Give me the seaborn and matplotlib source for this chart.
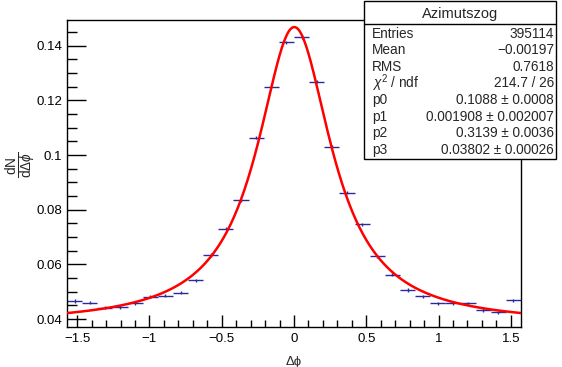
import numpy as np
import pandas as pd
import matplotlib
matplotlib.use("Agg")
import matplotlib.pyplot as plt
import seaborn as sns
from matplotlib.ticker import MultipleLocator, FuncFormatter

# ---- data ----
n_bins = 30
bin_edges_lo = -np.pi / 2
bin_edges_hi = np.pi / 2
counts = [0.0466, 0.0460, 0.0442, 0.0444, 0.0458, 0.0482, 0.0485, 0.0497,
          0.0542, 0.0634, 0.0730, 0.0834, 0.1064, 0.1250, 0.1412, 0.1432,
          0.1269, 0.1030, 0.0862, 0.0746, 0.0629, 0.0562, 0.0506, 0.0483,
          0.0458, 0.0458, 0.0458, 0.0433, 0.0425, 0.0469]
y_err = 0.0006
# fit parameters (from stat box)
p0, p1, p2, p3 = 0.1088, 0.001908, 0.3139, 0.03802
stat_title = "Azimutszog"
stat_labels = ["Entries", "Mean", "RMS", r"$\chi^2$ / ndf", "p0", "p1", "p2", "p3"]
stat_values = ["395114", "\u22120.00197", "0.7618", "214.7 / 26",
               "0.1088 \u00b1 0.0008", "0.001908 \u00b1 0.002007",
               "0.3139 \u00b1 0.0036", "0.03802 \u00b1 0.00026"]

edges = np.linspace(bin_edges_lo, bin_edges_hi, n_bins + 1)
centers = 0.5 * (edges[:-1] + edges[1:])
half_w = 0.5 * (edges[1] - edges[0])
df = pd.DataFrame({"x": centers, "y": counts})

xf = np.linspace(bin_edges_lo, bin_edges_hi, 400)
yf = p0 * p2**2 / ((xf - p1)**2 + p2**2) + p3
fit = pd.DataFrame({"x": xf, "y": yf})

sns.set_theme(style="ticks")
plt.rcParams['font.family'] = ['Liberation Sans', 'DejaVu Sans']
plt.rcParams['mathtext.fontset'] = 'custom'
plt.rcParams['mathtext.rm'] = 'Liberation Sans'
plt.rcParams['mathtext.it'] = 'Liberation Sans:italic'

fig = plt.figure(figsize=(5.62, 3.67), dpi=100)
fig.patch.set_facecolor("white")
ax = fig.add_axes([67 / 562, 1 - 327 / 367, (521 - 67) / 562, (327 - 20) / 367])

ax.errorbar(df["x"], df["y"], xerr=half_w, yerr=y_err, fmt="none",
            ecolor="#2a2aa0", elinewidth=1.0, capsize=0, zorder=2)
sns.lineplot(data=fit, x="x", y="y", ax=ax, color="#ff0000", lw=1.8, zorder=3)

ax.set_xlim(bin_edges_lo, bin_edges_hi)
ax.set_ylim(0.0371, 0.1494)

def fmt(v, pos):
    s = "%g" % round(v, 4)
    return s.replace("-", "\u2212")

ax.xaxis.set_major_locator(MultipleLocator(0.5))
ax.xaxis.set_minor_locator(MultipleLocator(0.1))
ax.yaxis.set_major_locator(MultipleLocator(0.02))
ax.yaxis.set_minor_locator(MultipleLocator(0.005))
ax.xaxis.set_major_formatter(FuncFormatter(fmt))
ax.yaxis.set_major_formatter(FuncFormatter(fmt))
ax.tick_params(axis="both", which="both", direction="in", top=False, right=False,
               labelsize=9.5, colors="black")
ax.tick_params(axis="y", which="major", length=14, width=1)
ax.tick_params(axis="y", which="minor", length=7, width=1)
ax.tick_params(axis="x", which="major", length=9, width=1)
ax.tick_params(axis="x", which="minor", length=5, width=1)
ax.tick_params(axis="x", pad=4)
for s in ax.spines.values():
    s.set_linewidth(1.0)
    s.set_color("black")
    s.set_visible(True)

ax.set_xlabel("\u0394\u03d5", fontsize=9.5, labelpad=8)
ax.set_ylabel("")
fig.text(21 / 562, 1 - 165 / 367, r"$\frac{\mathrm{dN}}{\mathrm{d}\Delta\phi}$",
         rotation=90, ha="center", va="center", fontsize=14)

# stat box
bx0, bx1, by0, by1 = 364, 556, 1, 159
rect = plt.Rectangle((bx0 / 562, 1 - by1 / 367), (bx1 - bx0) / 562, (by1 - by0) / 367,
                     transform=fig.transFigure, facecolor="white", edgecolor="black",
                     lw=1.0, zorder=10)
fig.patches.append(rect)
fig.add_artist(plt.Line2D([bx0 / 562, bx1 / 562], [1 - 24 / 367, 1 - 24 / 367],
                          transform=fig.transFigure, color="black", lw=1.0, zorder=11))
fig.text((bx0 + bx1) / 2 / 562, 1 - 14 / 367, stat_title, ha="center", va="center",
         fontsize=10.5, zorder=12)
for i, (lab, val) in enumerate(zip(stat_labels, stat_values)):
    yy = 1 - (33.5 + i * 16.6) / 367
    fig.text(372 / 562, yy, lab, ha="left", va="center", fontsize=9.8, zorder=12)
    fig.text(554 / 562, yy, val, ha="right", va="center", fontsize=9.8, zorder=12)

fig.savefig("out.png", dpi=100, facecolor="white")
